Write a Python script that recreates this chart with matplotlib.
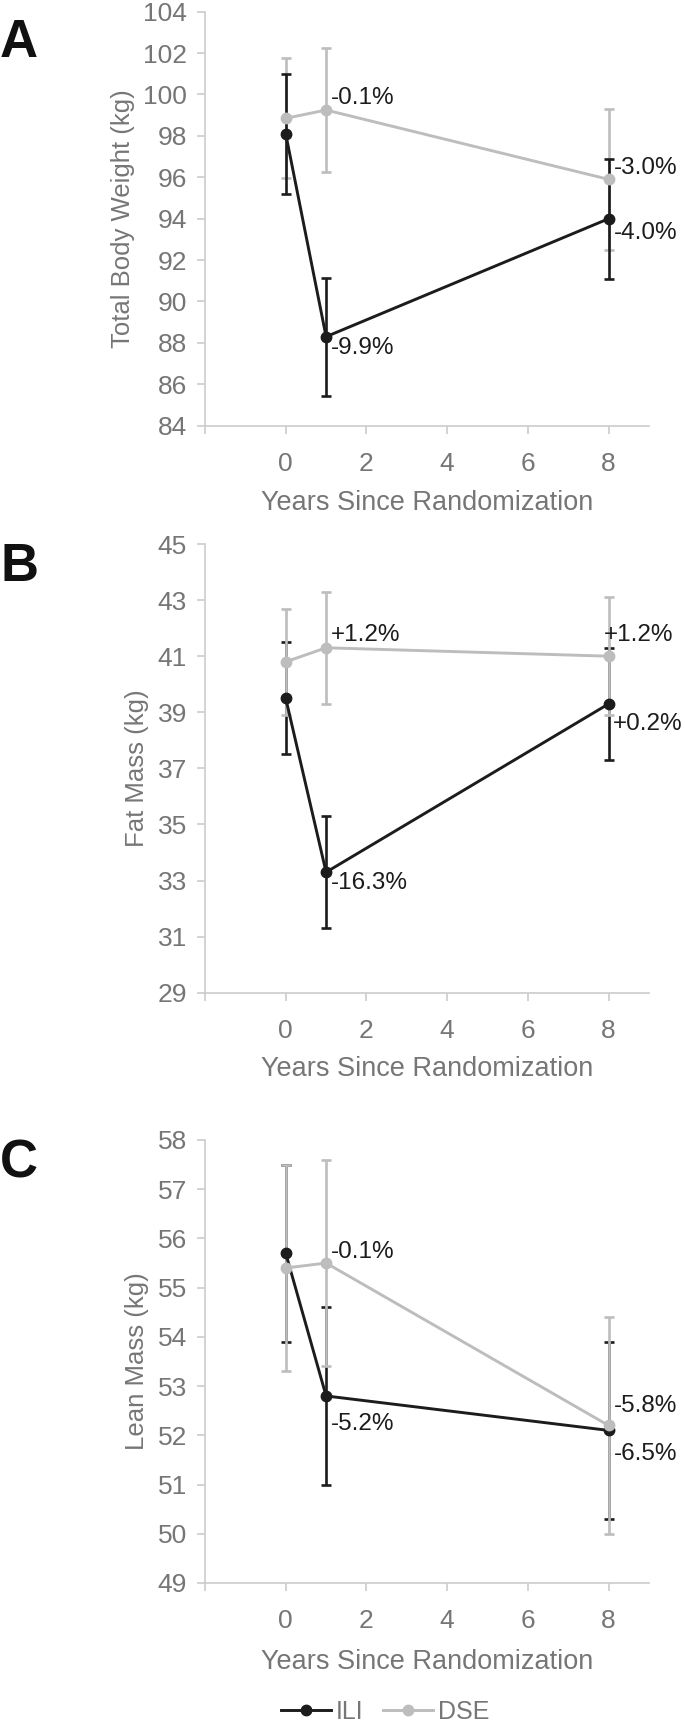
import matplotlib
matplotlib.use("Agg")
import matplotlib.pyplot as plt
from matplotlib.lines import Line2D

# ---------------- data ----------------
years = [0, 1, 8]

tbw_ili = [98.1, 88.3, 94.0]
tbw_ili_err = [2.9, 2.85, 2.9]
tbw_dse = [98.85, 99.25, 95.9]
tbw_dse_err = [2.9, 3.0, 3.4]
tbw_labels = [("-0.1%", 1, 99.83), ("-9.9%", 1, 87.75), ("-3.0%", 8, 96.43), ("-4.0%", 8, 93.3)]

fat_ili = [39.5, 33.3, 39.3]
fat_ili_err = [2.0, 2.0, 2.0]
fat_dse = [40.8, 41.3, 41.0]
fat_dse_err = [1.9, 2.0, 2.1]
fat_labels = [("+1.2%", 1, 41.76), ("-16.3%", 1, 32.9), ("+1.2%", 7.75, 41.76), ("+0.2%", 7.98, 38.6)]

lean_ili = [55.7, 52.8, 52.1]
lean_ili_err = [1.8, 1.8, 1.8]
lean_dse = [55.4, 55.5, 52.2]
lean_dse_err = [2.1, 2.1, 2.2]
lean_labels = [("-0.1%", 1, 55.73), ("-5.2%", 1, 52.24), ("-5.8%", 8, 52.59), ("-6.5%", 8, 51.63)]

xticks = [-2, 0, 2, 4, 6, 8]
xticklabels = ["", "0", "2", "4", "6", "8"]

# ---------------- style ----------------
BLACK = "#1c1c1c"
GRAY = "#bdbdbd"
AXTXT = "#767676"
SPINE = "#cccccc"
FONT = ["Liberation Sans", "DejaVu Sans"]
plt.rcParams["font.family"] = FONT

W, H = 685, 1730
fig = plt.figure(figsize=(W / 100, H / 100), dpi=100)


def make_ax(top_px, bot_px):
    left, right = 205, 649
    return fig.add_axes([left / W, 1 - bot_px / H, (right - left) / W, (bot_px - top_px) / H])


def panel(ax, ili, ili_e, dse, dse_e, labels, ylim, yticks, ylabel, gray_on_top, xlab_y):
    z_ili_e, z_dse_e, z_ili_l, z_dse_l = (1, 2, 3, 4) if gray_on_top else (2, 1, 4, 3)
    ax.errorbar(years, ili, yerr=ili_e, fmt="none", ecolor=BLACK, elinewidth=1.9,
                capsize=3.5, capthick=1.9, zorder=z_ili_e)
    ax.errorbar(years, dse, yerr=dse_e, fmt="none", ecolor=GRAY, elinewidth=1.9,
                capsize=3.5, capthick=1.9, zorder=z_dse_e)
    ax.plot(years, ili, color=BLACK, lw=2.1, marker="o", ms=7.5, zorder=z_ili_l)
    ax.plot(years, dse, color=GRAY, lw=2.1, marker="o", ms=7.5, zorder=z_dse_l)
    for txt, x, y in labels:
        ax.text(x + 0.12, y, txt, ha="left", va="center", fontsize=17.5, color=BLACK, zorder=6)
    ax.set_xlim(-2, 9)
    ax.set_ylim(*ylim)
    ax.set_yticks(yticks)
    ax.set_xticks(xticks)
    ax.set_xticklabels(xticklabels)
    for s in ("top", "right"):
        ax.spines[s].set_visible(False)
    for s in ("left", "bottom"):
        ax.spines[s].set_color(SPINE)
        ax.spines[s].set_linewidth(1.2)
    ax.tick_params(axis="both", colors=SPINE, labelcolor=AXTXT, labelsize=19,
                   length=6, width=1.2, direction="out")
    ax.tick_params(axis="x", pad=13)
    ax.tick_params(axis="y", pad=7)
    ax.set_ylabel(ylabel, fontsize=18.5, color=AXTXT, labelpad=6)
    ax.set_xlabel("Years Since Randomization", fontsize=19.5, color=AXTXT)
    ax.xaxis.set_label_coords(0.5, xlab_y)
    ax.xaxis.label.set_va("center")


axA = make_ax(11.7, 425.7)
panel(axA, tbw_ili, tbw_ili_err, tbw_dse, tbw_dse_err, tbw_labels, (84, 104),
      list(range(84, 105, 2)), "Total Body Weight (kg)", False, -0.187)

axB = make_ax(544, 992.8)
panel(axB, fat_ili, fat_ili_err, fat_dse, fat_dse_err, fat_labels, (29, 45),
      list(range(29, 46, 2)), "Fat Mass (kg)", True, -0.170)

axC = make_ax(1140, 1583)
panel(axC, lean_ili, lean_ili_err, lean_dse, lean_dse_err, lean_labels, (49, 58),
      list(range(49, 59, 1)), "Lean Mass (kg)", True, -0.178)

for letter, ypx in (("A", 18), ("B", 542), ("C", 1138)):
    fig.text(0.0, 1 - ypx / H, letter, fontsize=38, fontweight="bold", color="#111111",
             ha="left", va="top")

handles = [
    Line2D([], [], color=BLACK, lw=2.1, marker="o", ms=7.5),
    Line2D([], [], color=GRAY, lw=2.1, marker="o", ms=7.5),
]
fig.legend(handles, ["ILI", "DSE"], loc="center", bbox_to_anchor=(385 / W, 1 - 1712 / H),
           ncol=2, frameon=False, prop={"size": 18},
           labelcolor=AXTXT, handlelength=2.0, handletextpad=0.2, columnspacing=0.8,
           borderpad=0.1)

fig.savefig("out.png", dpi=100)
